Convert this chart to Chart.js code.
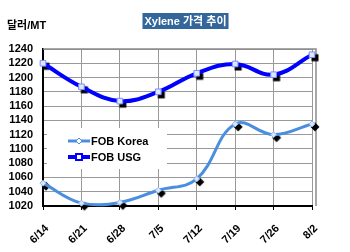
<!DOCTYPE html>
<html>
<head>
<meta charset="utf-8">
<script src="https://cdn.jsdelivr.net/npm/chart.js@4.4.1/dist/chart.umd.min.js"></script>
<style>
    html, body { margin: 0; padding: 0; background: #fff; }
</style>
</head>
<body>
<canvas id="xylene-chart" width="350" height="252"></canvas>
<script>
// Weekly xylene prices (USD/MT)
const weeks = ['6/14', '6/21', '6/28', '7/5', '7/12', '7/19', '7/26', '8/2'];
const fobKorea = [1052, 1024, 1025, 1042, 1058, 1135, 1120, 1135];
const fobUsg = [1220, 1187, 1167, 1180, 1206, 1219, 1204, 1232];
const yMin = 1020;
const yMax = 1240;
const yStep = 20;
const seriesNames = ['FOB Korea', 'FOB USG'];
const chartTitle = 'Xylene 가격 추이';
const unitLabel = '달러/MT';

const FONT = "'Liberation Sans', 'Noto Sans CJK KR', Arial, sans-serif";
const KOREA_BLUE = '#4a8ee0';
const USG_BLUE = '#0000ff';

// Black drop-shadow markers, shifted down/right inside a small canvas
function shadowMark(shape) {
    const c = document.createElement('canvas');
    c.width = 20;
    c.height = 20;
    const g = c.getContext('2d');
    const cx = 13, cy = 13;
    g.fillStyle = '#000';
    if (shape === 'square') {
        g.fillRect(cx - 3.5, cy - 3.5, 7, 7);
    } else {
        g.beginPath();
        g.moveTo(cx, cy - 4.5);
        g.lineTo(cx + 4.5, cy);
        g.lineTo(cx, cy + 4.5);
        g.lineTo(cx - 4.5, cy);
        g.closePath();
        g.fill();
    }
    return c;
}

// Frame, legend box, title and unit label
const decorPlugin = {
    id: 'decor',
    beforeDatasetsDraw(chart) {
        const { ctx, chartArea: a } = chart;
        ctx.save();

        // grey frame on top and right (sheet's plot area is a bit wider than the last week)
        ctx.strokeStyle = '#8a8a8a';
        ctx.lineWidth = 1.5;
        ctx.beginPath();
        ctx.moveTo(a.left, a.top);
        ctx.lineTo(a.right + 4, a.top);
        ctx.lineTo(a.right + 4, a.bottom);
        ctx.stroke();

        // legend
        const lx = a.left + 4, ly = a.top + 79;
        ctx.fillStyle = '#fff';
        ctx.fillRect(lx, ly, 120, 41);

        const rowY = [ly + 13, ly + 29];
        const colors = [KOREA_BLUE, USG_BLUE];
        const widths = [3, 4];
        seriesNames.forEach((name, i) => {
            ctx.strokeStyle = colors[i];
            ctx.lineWidth = widths[i];
            ctx.beginPath();
            ctx.moveTo(lx + 21, rowY[i]);
            ctx.lineTo(lx + 43, rowY[i]);
            ctx.stroke();

            ctx.lineWidth = i === 0 ? 1 : 2;
            ctx.fillStyle = '#fff';
            ctx.beginPath();
            if (i === 0) {
                const x = lx + 32, y = rowY[i];
                ctx.moveTo(x, y - 3);
                ctx.lineTo(x + 3, y);
                ctx.lineTo(x, y + 3);
                ctx.lineTo(x - 3, y);
                ctx.closePath();
            } else {
                ctx.rect(lx + 29, rowY[i] - 3, 6, 6);
            }
            ctx.fill();
            ctx.stroke();

            ctx.fillStyle = '#000';
            ctx.font = 'bold 11px ' + FONT;
            ctx.textAlign = 'left';
            ctx.textBaseline = 'middle';
            ctx.fillText(name, lx + 44, rowY[i] + 1);
        });
        ctx.restore();
    },
    afterDraw(chart) {
        const { ctx } = chart;
        ctx.save();
        ctx.font = 'bold 11px ' + FONT;
        ctx.textBaseline = 'middle';

        // title on a dark blue band
        const w = ctx.measureText(chartTitle).width + 4;
        const cx = 185.5;
        ctx.fillStyle = '#33669a';
        ctx.fillRect(cx - w / 2, 13, w, 16);
        ctx.fillStyle = '#fff';
        ctx.textAlign = 'center';
        ctx.fillText(chartTitle, cx, 21.5);

        // unit above the y axis
        ctx.fillStyle = '#000';
        ctx.textAlign = 'left';
        ctx.fillText(unitLabel, 7, 25.5);
        ctx.restore();
    }
};

const ctx = document.getElementById('xylene-chart');

new Chart(ctx, {
    type: 'line',
    data: {
        labels: weeks,
        datasets: [
            {
                label: seriesNames[0] + ' shadow',
                data: fobKorea,
                showLine: false,
                pointStyle: shadowMark('diamond'),
                clip: false,
                order: 10
            },
            {
                label: seriesNames[1] + ' shadow',
                data: fobUsg,
                showLine: false,
                pointStyle: shadowMark('square'),
                clip: false,
                order: 10
            },
            {
                label: seriesNames[0],
                data: fobKorea,
                borderColor: KOREA_BLUE,
                borderWidth: 3,
                tension: 0.4,
                pointStyle: 'rectRot',
                pointRadius: 3,
                pointBackgroundColor: '#d8e6ff',
                pointBorderColor: '#8fb4f0',
                pointBorderWidth: 1,
                clip: false,
                order: 1
            },
            {
                label: seriesNames[1],
                data: fobUsg,
                borderColor: USG_BLUE,
                borderWidth: 4,
                tension: 0.4,
                pointStyle: 'rect',
                pointRadius: 4,
                pointBackgroundColor: '#dfe6ff',
                pointBorderColor: '#7a8cff',
                pointBorderWidth: 1,
                clip: false,
                order: 0
            }
        ]
    },
    options: {
        responsive: false,
        animation: false,
        devicePixelRatio: 1,
        layout: {
            padding: { top: 49, right: 38, left: 0, bottom: 0 }
        },
        plugins: {
            legend: { display: false },
            title: { display: false },
            tooltip: { enabled: false }
        },
        scales: {
            x: {
                offset: false,
                grid: {
                    color: '#999',
                    lineWidth: 1,
                    drawTicks: true,
                    tickLength: 4,
                    tickColor: '#000'
                },
                border: { color: '#000', width: 2 },
                ticks: {
                    color: '#000',
                    font: { family: FONT, size: 11, weight: 'bold' },
                    minRotation: 45,
                    maxRotation: 45,
                    autoSkip: false,
                    labelOffset: 4,
                    padding: 12
                },
                afterFit(scale) { scale.height = 46; }
            },
            y: {
                min: yMin,
                max: yMax,
                grid: {
                    color: '#999',
                    lineWidth: 1,
                    drawTicks: false
                },
                border: { color: '#000', width: 2 },
                ticks: {
                    stepSize: yStep,
                    autoSkip: false,
                    color: '#000',
                    font: { family: FONT, size: 11, weight: 'bold' },
                    padding: 10,
                    callback: (v) => String(v)
                },
                afterFit(scale) { scale.width = 43; }
            }
        }
    },
    plugins: [decorPlugin]
});
</script>
</body>
</html>
